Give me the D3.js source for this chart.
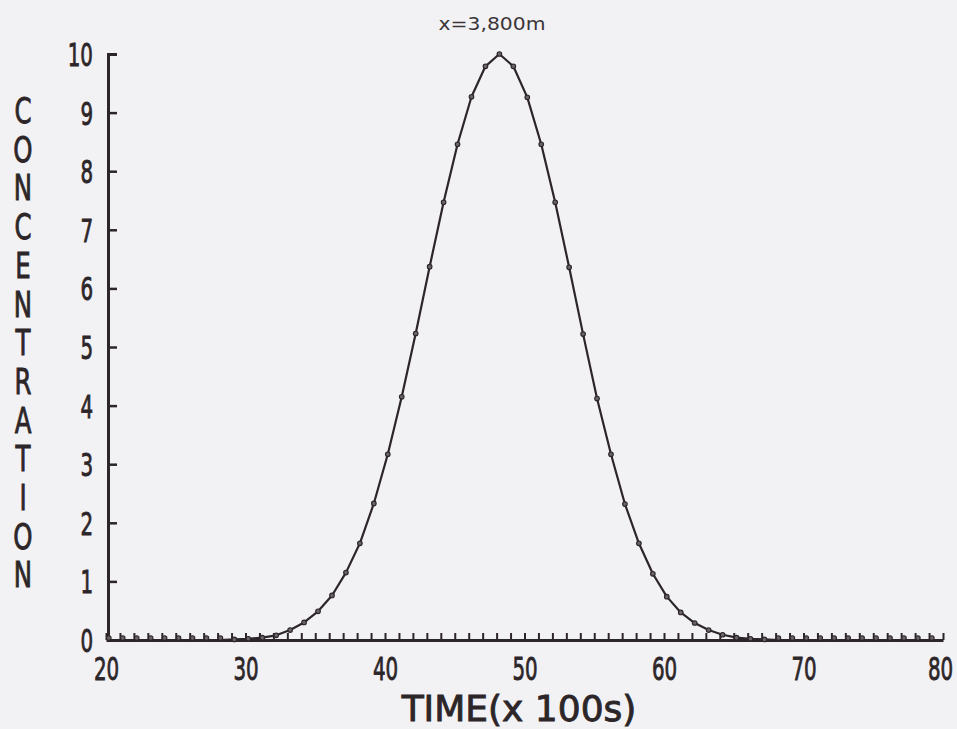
<!DOCTYPE html>
<html>
<head>
<meta charset="utf-8">
<script src="https://cdn.jsdelivr.net/npm/d3@7"></script>
<style>
  html, body { margin: 0; padding: 0; background: #f2f1f4; }
  svg { display: block; }
</style>
</head>
<body>
<svg id="chart"></svg>
<script>
const width = 957;
const height = 729;

// sample times (x 100 s), one dot per sample
const times = [
  20.2, 21.2, 22.2, 23.2, 24.2, 25.2, 26.2, 27.2, 28.2, 29.2,
  30.2, 31.2, 32.2, 33.2, 34.2, 35.2, 36.2, 37.2, 38.2, 39.2,
  40.2, 41.2, 42.2, 43.2, 44.2, 45.2, 46.2, 47.2, 48.2, 49.2,
  50.2, 51.2, 52.2, 53.2, 54.2, 55.2, 56.2, 57.2, 58.2, 59.2,
  60.2, 61.2, 62.2, 63.2, 64.2, 65.2, 66.2, 67.2, 68.2, 69.2,
  70.2, 71.2, 72.2, 73.2, 74.2, 75.2, 76.2, 77.2, 78.2, 79.2
];
const concentration = [
  0, 0, 0, 0, 0, 0, 0, 0, 0, 0.01,
  0.02, 0.04, 0.08, 0.17, 0.30, 0.49, 0.76, 1.15, 1.65, 2.33,
  3.17, 4.15, 5.23, 6.37, 7.47, 8.46, 9.27, 9.79, 10.0, 9.79,
  9.26, 8.46, 7.47, 6.36, 5.22, 4.12, 3.17, 2.32, 1.65, 1.13,
  0.74, 0.47, 0.29, 0.17, 0.09, 0.04, 0.02, 0.01, 0, 0,
  0, 0, 0, 0, 0, 0, 0, 0, 0, 0
];
const xTicks = [20, 30, 40, 50, 60, 70, 80];
const xMinorTicks = d3.range(20, 81);
const yTicks = [0, 1, 2, 3, 4, 5, 6, 7, 8, 9, 10];
const title = "x=3,800m";
const xTitle = "TIME(x 100s)";
const yTitle = "CONCENTRATION";

const ink = "#2c2629";
const plotFont = "'DejaVu Sans', sans-serif";
const squeeze = 0.62; // narrow plotter lettering

// plotter style lettering: regular face, thickened a little with an outline
function plotterText(sel, size) {
  sel.attr("fill", ink)
    .attr("stroke", ink)
    .attr("stroke-width", 0.9)
    .attr("font-family", plotFont)
    .attr("font-size", size);
}

const svg = d3.select("#chart")
  .attr("width", width)
  .attr("height", height)
  .attr("viewBox", [0, 0, width, height]);

svg.append("rect")
  .attr("width", width)
  .attr("height", height)
  .attr("fill", "#f2f1f4");

const x = d3.scaleLinear().domain([20, 80]).range([106, 943]);
const y = d3.scaleLinear().domain([0, 10]).range([640, 54]);

// minor ticks along the time axis
svg.append("g")
  .attr("transform", `translate(0,${y(0)})`)
  .call(d3.axisBottom(x).tickValues(xMinorTicks).tickSize(-7).tickFormat(""))
  .call(g => g.select(".domain").remove())
  .call(g => g.selectAll("line").attr("stroke", ink).attr("stroke-width", 2));

// labelled time axis
const xAxis = svg.append("g")
  .attr("transform", `translate(0,${y(0)})`)
  .call(d3.axisBottom(x).tickValues(xTicks).tickSize(0).tickPadding(17).tickFormat(d3.format("d")));
xAxis.select(".domain").attr("stroke", ink).attr("stroke-width", 3);
xAxis.selectAll("text")
  .call(plotterText, 32)
  .attr("y", 0)
  .attr("dy", "0.71em")
  .attr("transform", d => `translate(${d === 80 ? -3 : 0},17) scale(${squeeze},1)`);

// concentration axis
const yAxis = svg.append("g")
  .attr("transform", `translate(${x(20) + 2},0)`)
  .call(d3.axisLeft(y).tickValues(yTicks).tickSize(-9).tickPadding(15).tickFormat(d3.format("d")));
yAxis.select(".domain").attr("stroke", ink).attr("stroke-width", 3);
yAxis.selectAll(".tick line").attr("stroke", ink).attr("stroke-width", 2.5);
yAxis.selectAll("text")
  .call(plotterText, 32)
  .attr("x", 0)
  .attr("dy", "0.36em")
  .attr("transform", `translate(-15,0) scale(${squeeze},1)`);

// curve
const line = d3.line()
  .x((d, i) => x(times[i]))
  .y(d => y(d));

svg.append("path")
  .datum(concentration)
  .attr("fill", "none")
  .attr("stroke", ink)
  .attr("stroke-width", 2.2)
  .attr("stroke-linejoin", "round")
  .attr("d", line);

svg.append("g")
  .selectAll("circle")
  .data(concentration)
  .join("circle")
  .attr("cx", (d, i) => x(times[i]))
  .attr("cy", d => y(d) - (d === 0 ? 2 : 0))
  .attr("r", 2.3)
  .attr("fill", "#6a6367")
  .attr("stroke", ink)
  .attr("stroke-width", 1.1);

// title
svg.append("text")
  .attr("x", 492)
  .attr("y", 30)
  .attr("text-anchor", "middle")
  .attr("fill", "#3a3538")
  .attr("font-family", plotFont)
  .attr("font-size", 18.5)
  .attr("textLength", 107)
  .attr("lengthAdjust", "spacingAndGlyphs")
  .text(title);

// x axis title
svg.append("text")
  .attr("x", 519)
  .attr("y", 721)
  .attr("text-anchor", "middle")
  .call(plotterText, 36)
  .text(xTitle);

// y axis title, stacked letters
svg.append("g")
  .selectAll("text")
  .data(yTitle.split(""))
  .join("text")
  .attr("text-anchor", "middle")
  .attr("transform", (d, i) => `translate(23,${123 + i * 38.7}) scale(0.68,1)`)
  .call(plotterText, 36)
  .text(d => d);
</script>
</body>
</html>
